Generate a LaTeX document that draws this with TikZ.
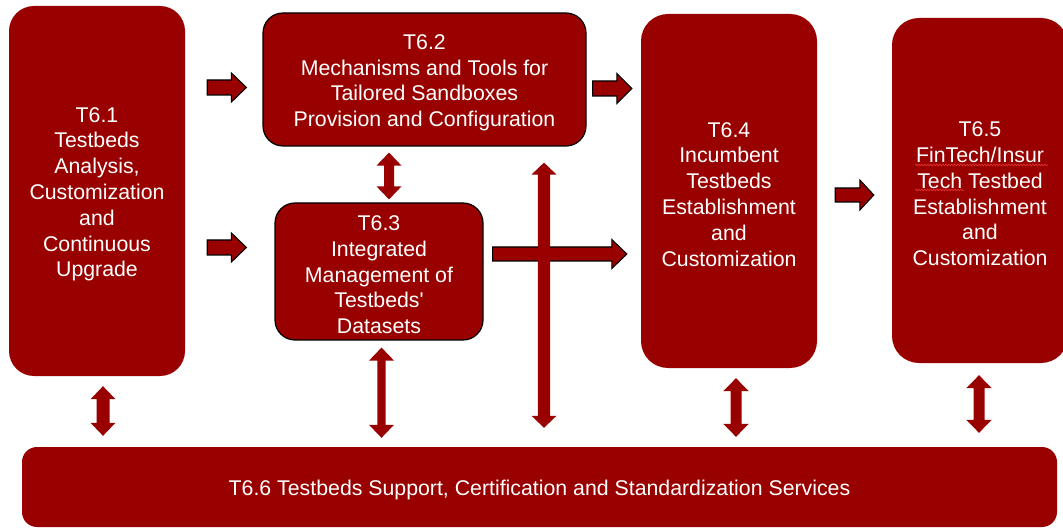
\documentclass[tikz,border=0pt]{standalone}
\usepackage{fontspec}
\newfontfamily\arialf{Liberation Sans}
\usetikzlibrary{calc,decorations.pathmorphing}
\definecolor{dkred}{HTML}{990000}
\definecolor{spellred}{RGB}{225,50,50}
\newcommand\txtup{\rule{0pt}{21.5pt}}
\begin{document}
\begin{tikzpicture}[x=1pt,y=1pt,
  box/.style={rectangle, fill=dkred, text=white, inner sep=0pt, align=center,
    font=\arialf\fontsize{21.3}{25.8}\selectfont},
  outlined/.style={draw=black, line width=1.2pt},
  harrow/.style n args={3}{fill=dkred, draw=black, line width=1.1pt, line join=miter,
    to path={let \p1=(\tikztostart), \p2=(\tikztotarget) in
      (\x1,\y1-#1) -- (\x2-#3,\y1-#1) -- (\x2-#3,\y1-#2) -- (\x2,\y1)
      -- (\x2-#3,\y1+#2) -- (\x2-#3,\y1+#1) -- (\x1,\y1+#1) -- cycle}},
  varrow/.style n args={3}{fill=dkred, draw=none,
    to path={let \p1=(\tikztostart), \p2=(\tikztotarget) in
      (\x1,\y1) -- (\x1+#2,\y1-#3) -- (\x1+#1,\y1-#3) -- (\x1+#1,\y2+#3)
      -- (\x1+#2,\y2+#3) -- (\x1,\y2) -- (\x1-#2,\y2+#3) -- (\x1-#1,\y2+#3)
      -- (\x1-#1,\y1-#3) -- (\x1-#2,\y1-#3) -- cycle}},
  spell/.style={draw=spellred, line width=0.7pt, decorate,
    decoration={snake, amplitude=0.8pt, segment length=3pt}}
]
\useasboundingbox (0,0) rectangle (1063,528);

% boxes
\node[box, rounded corners=25pt, minimum width=176pt, minimum height=370pt] (t61) at (97,337)
  {\txtup T6.1\\Testbeds\\Analysis,\\Customization\\and\\Continuous\\Upgrade};
\node[box, outlined, rounded corners=20pt, minimum width=323pt, minimum height=133pt] (t62) at (424.5,448.5)
  {\txtup T6.2\\Mechanisms and Tools for\\Tailored Sandboxes\\Provision and Configuration};
\node[box, outlined, rounded corners=20pt, minimum width=208pt, minimum height=137pt] (t63) at (379,256.5)
  {\txtup T6.3\\Integrated\\Management of\\Testbeds'\\Datasets};
\node[box, rounded corners=27pt, minimum width=176pt, minimum height=354pt] (t64) at (729,337)
  {\txtup T6.4\\Incumbent\\Testbeds\\Establishment\\and\\Customization};
\node[box, rounded corners=27pt, minimum width=176pt, minimum height=345pt] (t65) at (980,337.5)
  {\txtup T6.5\\FinTech/Insur\\Tech Testbed\\Establishment\\and\\Customization};
\node[box, rounded corners=15pt, minimum width=1035pt, minimum height=80pt] (t66) at (539.5,41)
  {\txtup T6.6 Testbeds Support, Certification and Standardization Services};

% spell-check underlines
\draw[spell] (915,363) -- (1048,363);
\draw[spell] (915,338) -- (964,338);

% horizontal block arrows
\draw[harrow={7.5}{14.5}{15}] ($(t61.east|-0,440.5)+(22,0)$) to ($(t62.west|-0,440.5)+(-16,0)$);
\draw[harrow={7.5}{14.5}{15}] ($(t61.east|-0,280.5)+(22,0)$) to ($(t63.west|-0,280.5)+(-28,0)$);
\draw[harrow={7.5}{15}{15}] ($(t62.east|-0,439.5)+(6,0)$) to ($(t64.west|-0,439.5)+(-9,0)$);
\draw[harrow={7}{14.5}{15}] ($(t63.east|-0,274)+(9,0)$) to ($(t64.west|-0,274)+(-14,0)$);
\draw[harrow={7}{15}{14}] ($(t64.east|-0,333)+(18,0)$) to ($(t65.west|-0,333)+(-18,0)$);

% vertical double arrows
\draw[varrow={5}{12.5}{13}] ($(t62.south-|389,0)+(0,-6)$) to ($(t63.north-|389,0)+(0,3)$);
\draw[varrow={6.2}{12.5}{12}] ($(t62.south-|544,0)+(0,-16)$) to ($(t66.north-|544,0)+(0,19)$);
\draw[varrow={6.5}{12.5}{13}] ($(t61.south-|103,0)+(0,-10)$) to ($(t66.north-|103,0)+(0,11)$);
\draw[varrow={4.2}{12.5}{13}] ($(t63.south-|381.5,0)+(0,-7)$) to ($(t66.north-|381.5,0)+(0,9)$);
\draw[varrow={5.5}{12.8}{13}] ($(t64.south-|736,0)+(0,-10)$) to ($(t66.north-|736,0)+(0,10)$);
\draw[varrow={5.5}{12.8}{13}] ($(t65.south-|979,0)+(0,-12)$) to ($(t66.north-|979,0)+(0,14)$);
\end{tikzpicture}
\end{document}
